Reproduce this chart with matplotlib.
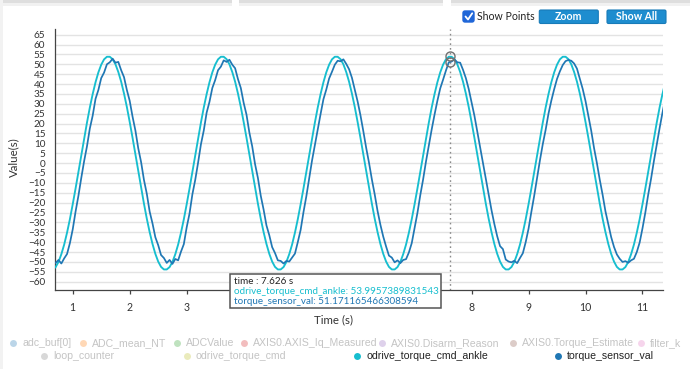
import numpy as np
import matplotlib
matplotlib.use("Agg")
import matplotlib.pyplot as plt
from matplotlib.lines import Line2D
from matplotlib.patches import Rectangle, FancyBboxPatch

# ---------------- data ----------------
time_start = 0.65   # s
time_step = 0.05    # s

odrive_torque_cmd_ankle = [
    -53.8,
    -52.6, -50.0, -46.1, -41.2, -35.2, -28.4, -20.8, -12.8, -4.4, 4.0,
    12.4, 20.5, 28.1, 34.9, 40.9, 45.9, 49.8, 52.5, 53.8, 53.8,
    52.6, 50.0, 46.1, 41.2, 35.2, 28.4, 20.8, 12.8, 4.4, -4.0,
    -12.4, -20.5, -28.1, -34.9, -40.9, -45.9, -49.8, -52.5, -53.8, -53.8,
    -52.6, -50.0, -46.1, -41.2, -35.2, -28.4, -20.8, -12.8, -4.4, 4.0,
    12.4, 20.5, 28.1, 34.9, 40.9, 45.9, 49.8, 52.5, 53.8, 53.8,
    52.6, 50.0, 46.1, 41.2, 35.2, 28.4, 20.8, 12.8, 4.4, -4.0,
    -12.4, -20.5, -28.1, -34.9, -40.9, -45.9, -49.8, -52.5, -53.8, -53.8,
    -52.6, -50.0, -46.1, -41.2, -35.2, -28.4, -20.8, -12.8, -4.4, 4.0,
    12.4, 20.5, 28.1, 34.9, 40.9, 45.9, 49.8, 52.5, 53.8, 53.8,
    52.6, 50.0, 46.1, 41.2, 35.2, 28.4, 20.8, 12.8, 4.4, -4.0,
    -12.4, -20.5, -28.1, -34.9, -40.9, -45.9, -49.8, -52.5, -53.8, -53.8,
    -52.6, -50.0, -46.1, -41.2, -35.2, -28.4, -20.8, -12.8, -4.4, 4.0,
    12.4, 20.5, 28.1, 34.9, 40.9, 45.9, 49.8, 52.5, 53.8, 53.8,
    52.6, 50.0, 46.1, 41.2, 35.2, 28.4, 20.8, 12.8, 4.4, -4.0,
    -12.4, -20.5, -28.1, -34.9, -40.9, -45.9, -49.8, -52.5, -53.8, -53.8,
    -52.6, -50.0, -46.1, -41.2, -35.2, -28.4, -20.8, -12.8, -4.4, 4.0,
    12.4, 20.5, 28.1, 34.9, 40.9, 45.9, 49.8, 52.5, 53.8, 53.8,
    52.6, 50.0, 46.1, 41.2, 35.2, 28.4, 20.8, 12.8, 4.4, -4.0,
    -12.4, -20.5, -28.1, -34.9, -40.9, -45.9, -49.8, -52.5, -53.8, -53.8,
    -52.6, -50.0, -46.1, -41.2, -35.2, -28.4, -20.8, -12.8, -4.4, 4.0,
    12.4, 20.5, 28.1, 34.9, 40.9,
]

torque_sensor_val = [
    -50.0,
    -50.5, -49.0, -50.8, -48.2, -46.0, -40.5, -33.5, -24.5, -16.5, -7.5,
    1.0, 8.5, 17.5, 24.0, 32.5, 37.0, 43.0, 45.8, 50.0, 51.0,
    52.8, 50.8, 51.2, 47.0, 43.5, 37.0, 31.5, 23.5, 16.5, 7.5,
    0.5, -8.5, -15.5, -24.5, -30.5, -37.5, -41.5, -46.5, -48.0, -50.5,
    -49.0, -51.0, -48.5, -49.2, -44.8, -41.0, -32.5, -25.5, -15.8, -8.5,
    0.2, 9.5, 16.5, 25.5, 31.0, 38.0, 42.0, 47.0, 48.8, 52.0,
    51.2, 52.3, 49.8, 48.0, 42.5, 38.0, 30.5, 24.5, 15.5, 8.5,
    -0.5, -7.5, -16.5, -23.5, -31.5, -36.5, -42.5, -45.5, -49.2, -49.5,
    -50.8, -49.5, -49.8, -47.8, -45.8, -40.0, -33.8, -24.8, -16.8, -7.8,
    1.3, 9.2, 17.3, 24.8, 32.3, 37.2, 42.8, 46.2, 49.8, 51.8,
    51.5, 52.5, 50.2, 47.5, 43.2, 37.2, 31.2, 24.2, 16.2, 7.8,
    0.2, -8.2, -15.8, -24.2, -31.2, -37.2, -42.2, -46.8, -47.8, -50.2,
    -49.2, -50.6, -49.0, -48.6, -45.2, -40.5, -32.8, -25.2, -16.2, -8.2,
    0.8, 9.0, 17.0, 24.5, 31.5, 37.8, 42.2, 46.8, 51.0, 51.4,
    52.4, 51.0, 50.8, 47.2, 43.0, 37.5, 30.8, 24.0, 16.0, 8.2,
    -0.2, -8.0, -16.2, -23.8, -30.8, -37.0, -42.0, -43.5, -48.8, -49.8,
    -50.2, -49.4, -50.6, -48.0, -45.6, -40.0, -33.2, -24.6, -16.4, -7.6,
    1.4, 9.6, 16.8, 25.0, 31.6, 37.4, 42.6, 46.4, 49.6, 51.6,
    52.2, 51.8, 50.4, 47.8, 42.8, 37.6, 31.4, 23.8, 16.4, 7.6,
    0.0, -8.4, -16.0, -24.4, -31.0, -37.4, -42.4, -46.2, -48.4, -50.0,
    -49.6, -50.4, -49.2, -48.4, -45.0, -40.2, -33.0, -25.0, -16.0, -8.0,
    1.0, 9.4, 17.6, 25.4, 32.6,
]

hover_time = 7.626
hover_cmd = 53.9957389831543
hover_sensor = 51.171165466308594

y_ticks = list(range(-60, 66, 5))
x_ticks = list(range(1, 12))

legend_names = ["adc_buf[0]", "ADC_mean_NT", "ADCValue", "AXIS0.AXIS_Iq_Measured",
                "AXIS0.Disarm_Reason", "AXIS0.Torque_Estimate", "filter_k",
                "loop_counter", "odrive_torque_cmd", "odrive_torque_cmd_ankle",
                "torque_sensor_val"]
legend_active = [False, False, False, False, False, False, False, False, False, True, True]
palette = ['#1f77b4', '#ff7f0e', '#2ca02c', '#d62728', '#9467bd',
           '#8c564b', '#e377c2', '#7f7f7f', '#bcbd22', '#17becf']

# ---------------- layout ----------------
W, H = 690, 369
fig = plt.figure(figsize=(W / 100, H / 100), dpi=100)
fig.patch.set_facecolor('white')
PX = fig.dpi_scale_trans  # inches; 1 px = 0.01 in


def P(x, y):
    return (x / 100.0, (H - y) / 100.0)


UI_FONT = ['Lato', 'DejaVu Sans']
LEG_FONT = ['Liberation Sans', 'DejaVu Sans']

ax_l, ax_r, ax_t, ax_b = 54.5, 663.0, 29.3, 290.0
ax = fig.add_axes([ax_l / W, 1 - ax_b / H, (ax_r - ax_l) / W, (ax_b - ax_t) / H])

n = len(odrive_torque_cmd_ankle)
t = time_start + time_step * np.arange(n)
ax.plot(t, odrive_torque_cmd_ankle, color=palette[9], lw=1.35, zorder=3,
        solid_joinstyle='round')
ax.plot(t, torque_sensor_val, color=palette[0], lw=1.25, zorder=4,
        solid_joinstyle='round')

ax.axvline(hover_time, color='#8a8a8a', lw=1.0, ls=(0, (1.2, 2.2)), zorder=2)
ax.plot([hover_time], [hover_cmd], 'o', mfc='none', mec='#707070', ms=6.5, mew=1.0, zorder=5)
ax.plot([hover_time], [hover_sensor], 'o', mfc='none', mec='#707070', ms=6.5, mew=1.0, zorder=5)

ax.set_xlim(0.68, 11.36)
ax.set_ylim(-64.2, 67.7)
ax.set_yticks(y_ticks)
ax.set_yticklabels([str(v).replace('-', '\u2212') for v in y_ticks])
ax.set_xticks(x_ticks)
ax.set_xticklabels([str(v) for v in x_ticks])
ax.yaxis.grid(True, color='#e3e3e3', lw=1.0)
ax.set_axisbelow(True)
for s in ['top', 'right']:
    ax.spines[s].set_visible(False)
for s in ['left', 'bottom']:
    ax.spines[s].set_color('#444444')
    ax.spines[s].set_linewidth(0.9)
ax.tick_params(axis='y', length=0, pad=6.5, labelsize=7.2, labelcolor='#333333')
ax.tick_params(axis='x', length=3.2, width=0.9, color='#444444', pad=5.5,
               labelsize=7.6, labelcolor='#333333')
for lab in ax.get_yticklabels() + ax.get_xticklabels():
    lab.set_family(UI_FONT)
# x tick labels 4..7 sit underneath the hover tooltip in the reference
for v, lab in zip(x_ticks, ax.get_xticklabels()):
    if 4 <= v <= 7:
        lab.set_visible(False)

# axis titles
fig.text(*P(14, 157), 'Value(s)', transform=PX, rotation=90, ha='center', va='center',
         fontsize=8.3, color='#333333', family=UI_FONT)
fig.text(*P(334, 319.5), 'Time (s)', transform=PX, ha='center', va='center',
         fontsize=8.3, color='#333333', family=UI_FONT)

# ---------------- page chrome ----------------
for x0, x1 in [(0, 232), (239, 443), (451, 690)]:
    fig.add_artist(Rectangle(P(x0, 3.5), (x1 - x0) / 100, 0.035, transform=PX,
                             facecolor='#dedede', edgecolor='none', zorder=1))
    fig.add_artist(Rectangle(P(x0, 5.5), (x1 - x0) / 100, 0.02, transform=PX,
                             facecolor='#f1f1f1', edgecolor='none', zorder=1))
fig.add_artist(Rectangle(P(0, H), 0.025, H / 100, transform=PX,
                         facecolor='#f2f2f2', edgecolor='none', zorder=1))

# checkbox
fig.add_artist(FancyBboxPatch(P(463, 22), 0.11, 0.11, transform=PX,
                              boxstyle='round,pad=0,rounding_size=0.02',
                              facecolor='#1f66d8', edgecolor='#1f66d8', zorder=5))
fig.add_artist(Line2D([P(465.5, 16.5)[0], P(468, 19.5)[0], P(472.2, 13.3)[0]],
                      [P(465.5, 16.5)[1], P(468, 19.5)[1], P(472.2, 13.3)[1]],
                      transform=PX, color='white', lw=1.3, zorder=6,
                      solid_capstyle='round', solid_joinstyle='round'))
fig.text(*P(477, 17), 'Show Points', transform=PX, ha='left', va='center',
         fontsize=7.6, color='#222222', family=UI_FONT)

# buttons
for (bx0, bx1, label) in [(539.3, 598.3, 'Zoom'), (607.0, 666.0, 'Show All')]:
    fig.add_artist(FancyBboxPatch(P(bx0, 23.5), (bx1 - bx0) / 100, 0.135, transform=PX,
                                  boxstyle='round,pad=0,rounding_size=0.015',
                                  facecolor='#1e8dcf', edgecolor='#187bb8', lw=0.8, zorder=5))
    fig.text(*P((bx0 + bx1) / 2, 16.8), label, transform=PX, ha='center', va='center',
             fontsize=7.6, color='white', fontweight='bold', family=UI_FONT, zorder=6)

# ---------------- tooltip ----------------
fig.add_artist(Rectangle(P(229.5, 308.3), (441 - 229.5) / 100, (308.3 - 274) / 100,
                         transform=PX, facecolor='white', edgecolor='#555555',
                         lw=1.1, zorder=8))
tip_lines = [(f"time : {hover_time} s", '#222222'),
             (f"odrive_torque_cmd_ankle: {hover_cmd}", palette[9]),
             (f"torque_sensor_val: {hover_sensor}", palette[0])]
for (txt, col), yy in zip(tip_lines, [281.8, 291.2, 301.2]):
    fig.text(*P(234, yy), txt, transform=PX, ha='left', va='center', fontsize=7.1,
             color=col, family=UI_FONT, zorder=9)

# ---------------- legend ----------------
leg_pos = [(13.3, 342.7), (83.3, 342.7), (177.3, 342.7), (244.0, 342.7),
           (382.3, 342.7), (513.3, 342.7), (641.0, 342.7),
           (44.3, 356.0), (186.7, 356.0), (357.3, 356.0), (558.3, 356.0)]
for i, (name, active) in enumerate(zip(legend_names, legend_active)):
    cx, cy = leg_pos[i]
    col = palette[i % len(palette)]
    fig.add_artist(Line2D([P(cx, cy)[0]], [P(cx, cy)[1]], transform=PX, marker='o',
                          ms=5.0, mfc=col, mec='none', ls='none',
                          alpha=1.0 if active else 0.3, zorder=5))
    fig.text(*P(cx + 9, cy), name, transform=PX, ha='left', va='center',
             fontsize=7.6, color='#222222' if active else '#c4c4c4',
             family=LEG_FONT, zorder=5)

fig.savefig('out.png', dpi=100, facecolor='white')
